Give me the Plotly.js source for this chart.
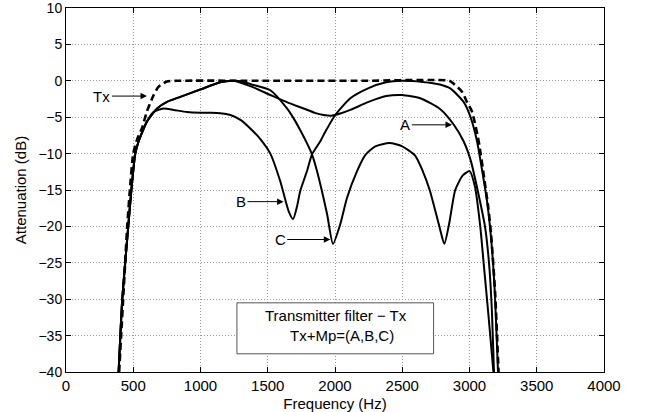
<!DOCTYPE html>
<html><head><meta charset="utf-8">
<script src="https://cdn.plot.ly/plotly-3.0.1.min.js"></script>
<style>html,body{margin:0;padding:0;background:#fff;}#plot{width:649px;height:412px;}</style>
</head><body><div id="plot"></div>
<script>
// Tx (transmitter filter)
var txFreq = [395, 410, 425, 440, 455, 475, 500, 530, 565, 602, 652, 689, 751, 820, 1500, 2200, 2850, 2882, 2944, 2981, 3018, 3068, 3110, 3140, 3160, 3190, 3216];
var txDb   = [-40, -35, -30, -25, -20, -15, -10, -8, -6.5, -4.2, -1.95, -0.8, -0.1, 0, 0, 0, 0, -0.4, -1.5, -2.9, -4.2, -8.3, -13.5, -17.5, -21, -29, -40];
// Tx+Mp A
var aFreq = [391, 404, 418, 440, 463, 486, 515, 540, 570, 602, 640, 677, 751, 850, 998, 1147, 1246, 1380, 1519, 1650, 1767, 1850, 1915, 1970, 2039, 2114, 2250, 2380, 2498, 2634, 2783, 2882, 2956, 3010, 3060, 3115, 3145, 3165, 3182];
var aDb   = [-40, -35, -30, -25, -20, -15, -10, -8.3, -6.9, -5.6, -4.6, -3.8, -2.9, -2.2, -1.2, -0.2, 0, -0.8, -1.95, -3.0, -3.8, -4.4, -4.7, -4.8, -4.5, -4.0, -2.9, -2.1, -1.95, -2.4, -3.9, -6.0, -8.3, -11, -15, -20, -25, -31, -40];
// Tx+Mp B
var bFreq = [391, 404, 418, 440, 463, 486, 515, 540, 570, 602, 650, 725, 800, 900, 1000, 1073, 1147, 1222, 1300, 1395, 1445, 1519, 1593, 1655, 1688, 1717, 1742, 1792, 1829, 1891, 1928, 2002, 2114, 2250, 2380, 2498, 2650, 2780, 2857, 2956, 3006, 3056, 3100, 3130, 3155, 3185, 3212];
var bDb   = [-40, -35, -30, -25, -20, -15, -10, -8.3, -6.9, -5.6, -4.3, -3.8, -4.0, -4.3, -4.4, -4.4, -4.45, -4.7, -5.4, -7.0, -8.0, -10.0, -13.8, -17.9, -19.0, -17.3, -15.1, -12.4, -10.1, -8.3, -7.0, -4.7, -2.4, -1.0, -0.2, 0, -0.15, -0.5, -1.05, -2.9, -4.9, -8.3, -13, -16.5, -20.5, -28, -40];
// Tx+Mp C
var cFreq = [391, 404, 418, 440, 463, 486, 515, 540, 570, 602, 640, 677, 751, 850, 998, 1147, 1246, 1300, 1380, 1519, 1643, 1700, 1742, 1792, 1829, 1866, 1941, 1985, 2039, 2089, 2164, 2225, 2300, 2406, 2500, 2597, 2650, 2704, 2776, 2813, 2850, 2894, 2950, 3001, 3040, 3080, 3105, 3140, 3178];
var cDb   = [-40, -35, -30, -25, -20, -15, -10, -8.3, -6.9, -5.6, -4.6, -3.8, -2.9, -2.2, -1.2, -0.2, 0, -0.05, -0.5, -1.3, -3.8, -5.4, -6.8, -8.6, -10.1, -12.4, -18.3, -22.4, -19.7, -16.1, -12.4, -10.2, -9.0, -8.55, -9.0, -10.3, -12.3, -15, -20, -22.4, -19.5, -15, -13, -12.4, -14.5, -20, -25, -32, -40];

var xTicks = [0, 500, 1000, 1500, 2000, 2500, 3000, 3500, 4000];
var yTicks = [-40, -35, -30, -25, -20, -15, -10, -5, 0, 5, 10];

var FONT = "Liberation Sans, Arial, Helvetica, sans-serif";
var FS = 15;
function solid(x, y, name) {
  return {x: x, y: y, name: name, type: 'scatter', mode: 'lines',
    line: {color: '#000', width: 2, shape: 'spline', smoothing: 0.6}, hoverinfo: 'skip'};
}
var traces = [
  solid(aFreq, aDb, 'A'),
  solid(bFreq, bDb, 'B'),
  solid(cFreq, cDb, 'C'),
  {x: txFreq, y: txDb, name: 'Tx', type: 'scatter', mode: 'lines',
   line: {color: '#000', width: 2.6, dash: '7px,4px', shape: 'spline', smoothing: 0.6}, hoverinfo: 'skip'}
];

function arrow(text, tipX, tipY, textX) {
  return {x: tipX, y: tipY, xref: 'x', yref: 'y', ax: textX, ay: tipY, axref: 'x', ayref: 'y',
    text: text, showarrow: true, arrowhead: 2, arrowsize: 1.3, arrowwidth: 1, arrowcolor: '#000',
    standoff: 0, startstandoff: 0, font: {family: FONT, size: FS, color: '#000'}};
}

var axisCommon = {
  showline: true, linecolor: '#000', linewidth: 1, mirror: 'allticks',
  ticks: 'inside', ticklen: 5, tickcolor: '#000',
  showgrid: true, gridcolor: '#9a9a9a', griddash: '1px,2px', gridwidth: 1, zeroline: false,
  ticklabeloverflow: 'allow'
};

var layout = {
  width: 649, height: 412,
  margin: {l: 66, r: 45, t: 8, b: 40},
  paper_bgcolor: '#fff', plot_bgcolor: '#fff',
  showlegend: false,
  font: {family: FONT, size: FS, color: '#000'},
  xaxis: Object.assign({}, axisCommon, {range: [0, 4000], tickvals: xTicks, ticktext: xTicks.map(String),
    tickfont: {family: FONT, size: FS},
    title: {text: 'Frequency (Hz)', font: {family: FONT, size: FS}}}),
  yaxis: Object.assign({}, axisCommon, {range: [-40, 10], tickvals: yTicks,
    tickfont: {family: FONT, size: 14},
    title: {text: 'Attenuation (dB)', font: {family: FONT, size: FS}}}),
  shapes: [{type: 'rect', xref: 'x', yref: 'y', x0: 1271, x1: 2733, y0: -37.5, y1: -30.5,
    line: {color: '#555', width: 1}, fillcolor: '#fff', layer: 'above'}],
  annotations: [
    arrow('Tx', 602, -2.1, 267),
    arrow('A', 2870, -6.05, 2523),
    arrow('B', 1618, -16.6, 1301),
    arrow('C', 1965, -21.8, 1593),
    {x: 2010, y: -32.3, xref: 'x', yref: 'y', text: 'Transmitter filter \u2212 Tx', showarrow: false,
     font: {family: FONT, size: FS, color: '#000'}},
    {x: 2055, y: -35.0, xref: 'x', yref: 'y', text: 'Tx+Mp=(A,B,C)', showarrow: false,
     font: {family: FONT, size: FS, color: '#000'}}
  ]
};
Plotly.newPlot('plot', traces, layout, {staticPlot: true, displayModeBar: false});
</script></body></html>
